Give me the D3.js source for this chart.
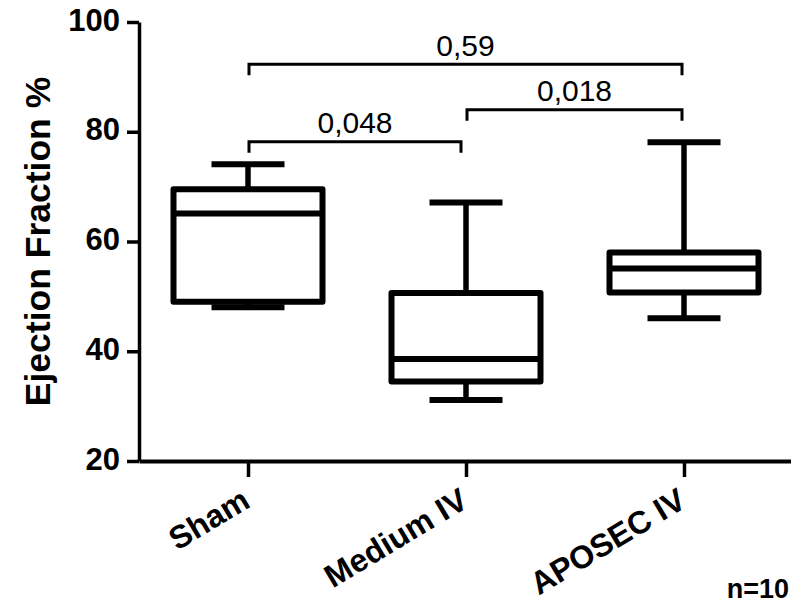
<!DOCTYPE html>
<html>
<head>
<meta charset="utf-8">
<script src="https://cdn.jsdelivr.net/npm/d3@7"></script>
<style>
  html, body { margin: 0; padding: 0; background: #fff; }
  svg { display: block; }
  text { font-family: "Liberation Sans", Arial, Helvetica, sans-serif; }
</style>
</head>
<body>
<svg id="chart" width="791" height="605"></svg>
<script>
// Ejection fraction (%) per group, box-and-whisker summary (min..max whiskers)
const categories = ["Sham", "Medium IV", "APOSEC IV"];
const whiskerMin = [48.0, 31.1, 46.0];
const quartile1  = [49.0, 34.5, 50.7];
const medians    = [65.1, 38.6, 55.1];
const quartile3  = [69.5, 50.6, 58.0];
const whiskerMax = [74.1, 67.1, 78.1];

// Pairwise comparisons: group indices, bracket height (% EF) and p-value text
const pairFrom   = [0, 1, 0];
const pairTo     = [1, 2, 2];
const pairLevel  = [78.2, 84.0, 92.3];
const pairLabels = ["0,048", "0,018", "0,59"];

const yTicks = [20, 40, 60, 80, 100];
const yTitle = "Ejection Fraction %";
const footnote = "n=10";

const svg = d3.select("#chart");

const y = d3.scaleLinear().domain([20, 100]).range([461, 22]);
const x = d3.scalePoint().domain(categories).range([139, 793]).padding(0.5);

const boxHalf = 74.5;
const capHalf = 36.5;

// Y axis
const yAxis = svg.append("g")
  .attr("transform", "translate(139,0)")
  .call(d3.axisLeft(y).tickValues(yTicks).tickSize(12).tickSizeOuter(0).tickPadding(7));
yAxis.select(".domain").attr("stroke", "#000").attr("stroke-width", 3.5);
yAxis.selectAll(".tick line").attr("stroke", "#000").attr("stroke-width", 3.5);
yAxis.selectAll(".tick text")
  .attr("fill", "#000")
  .attr("dy", "0.26em")
  .style("font-size", "31px")
  .style("font-weight", "bold");

// X axis
const xAxis = svg.append("g")
  .attr("transform", "translate(0,461)")
  .call(d3.axisBottom(x).tickSize(16).tickSizeOuter(0).tickFormat(""));
xAxis.select(".domain").attr("stroke", "#000").attr("stroke-width", 4);
xAxis.selectAll(".tick line").attr("stroke", "#000").attr("stroke-width", 3.5);

// Rotated category labels
svg.append("g").selectAll("text")
  .data(categories)
  .join("text")
  .attr("transform", d => `translate(${x(d) + 4},506) rotate(-31)`)
  .attr("text-anchor", "end")
  .style("font-size", "32px")
  .style("font-weight", "bold")
  .attr("fill", "#000")
  .text(d => d);

// Y axis title
svg.append("text")
  .attr("transform", "translate(50,241.5) rotate(-90)")
  .attr("text-anchor", "middle")
  .style("font-size", "35.5px")
  .style("font-weight", "bold")
  .attr("fill", "#000")
  .text(yTitle);

// Boxes and whiskers
const groups = categories.map((c, i) => ({
  name: c, min: whiskerMin[i], q1: quartile1[i], med: medians[i], q3: quartile3[i], max: whiskerMax[i]
}));

const boxes = svg.append("g")
  .attr("stroke", "#000")
  .attr("fill", "none")
  .attr("stroke-linejoin", "round");

const g = boxes.selectAll("g").data(groups).join("g");

// whisker stems
g.append("line")
  .attr("x1", d => x(d.name)).attr("x2", d => x(d.name))
  .attr("y1", d => y(d.max)).attr("y2", d => y(d.q3))
  .attr("stroke-width", 5.5);
g.append("line")
  .attr("x1", d => x(d.name)).attr("x2", d => x(d.name))
  .attr("y1", d => y(d.q1)).attr("y2", d => y(d.min))
  .attr("stroke-width", 5.5);
// whisker caps
g.append("line")
  .attr("x1", d => x(d.name) - capHalf).attr("x2", d => x(d.name) + capHalf)
  .attr("y1", d => y(d.max)).attr("y2", d => y(d.max))
  .attr("stroke-width", 6);
g.append("line")
  .attr("x1", d => x(d.name) - capHalf).attr("x2", d => x(d.name) + capHalf)
  .attr("y1", d => y(d.min)).attr("y2", d => y(d.min))
  .attr("stroke-width", 6);
// box
g.append("rect")
  .attr("x", d => x(d.name) - boxHalf)
  .attr("width", boxHalf * 2)
  .attr("y", d => y(d.q3))
  .attr("height", d => y(d.q1) - y(d.q3))
  .attr("fill", "#fff")
  .attr("stroke-width", 6);
// median
g.append("line")
  .attr("x1", d => x(d.name) - boxHalf).attr("x2", d => x(d.name) + boxHalf)
  .attr("y1", d => y(d.med)).attr("y2", d => y(d.med))
  .attr("stroke-width", 6);

// Significance brackets
const pairs = pairLabels.map((lab, i) => ({
  a: categories[pairFrom[i]], b: categories[pairTo[i]], level: pairLevel[i], label: lab,
  rightInset: pairTo[i] === 1 ? 5 : 2
}));
const drop = 11;
const br = svg.append("g");
br.selectAll("path")
  .data(pairs)
  .join("path")
  .attr("fill", "none")
  .attr("stroke", "#000")
  .attr("stroke-width", 3)
  .attr("d", d => {
    const x0 = x(d.a) + 1, x1 = x(d.b) - d.rightInset, yy = y(d.level);
    return `M${x0},${yy + drop}V${yy}H${x1}V${yy + drop}`;
  });
br.selectAll("text")
  .data(pairs)
  .join("text")
  .attr("x", d => (x(d.a) + 1 + x(d.b) - d.rightInset) / 2)
  .attr("y", d => y(d.level) - 8.5)
  .attr("text-anchor", "middle")
  .style("font-size", "30px")
  .attr("fill", "#000")
  .text(d => d.label);

// Sample size note
svg.append("text")
  .attr("x", 789)
  .attr("y", 598)
  .attr("text-anchor", "end")
  .style("font-size", "27px")
  .style("font-weight", "bold")
  .attr("fill", "#000")
  .text(footnote);
</script>
</body>
</html>
